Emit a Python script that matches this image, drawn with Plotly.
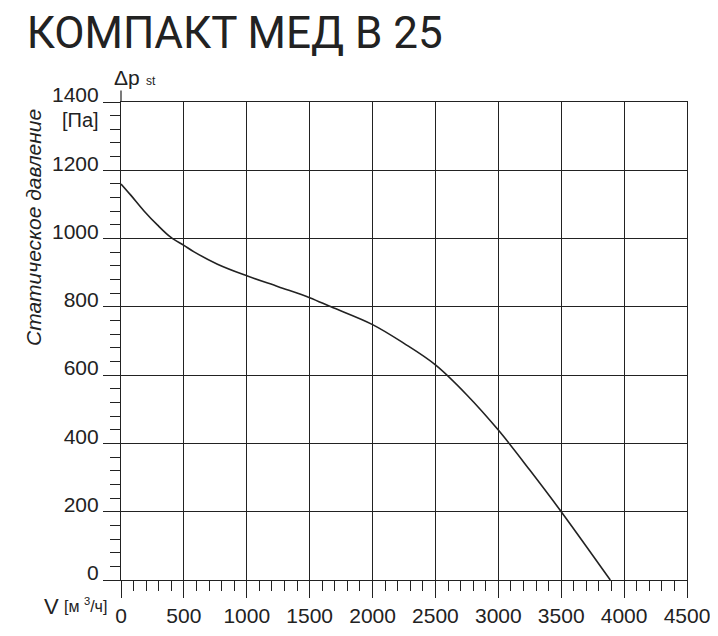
import plotly.graph_objects as go

# кривая вентилятора
flow = [0, 76, 183, 289, 395, 500, 581, 767, 1000, 1250, 1500, 1670, 2000, 2250, 2500, 2750, 3000, 3250, 3500, 3890]
pressure = [1160, 1128, 1081, 1040, 1004, 980, 961, 925, 891, 859, 827, 800, 748, 693, 630, 542, 439, 322, 200, 0]

x_ticks = [0, 500, 1000, 1500, 2000, 2500, 3000, 3500, 4000, 4500]
y_ticks = [0, 200, 400, 600, 800, 1000, 1200, 1400]

ink = "#222222"
font = "Liberation Sans"

fig = go.Figure()
fig.add_trace(go.Scatter(x=flow, y=pressure, mode="lines", line=dict(color=ink, width=1.6, shape="spline", smoothing=1.0),
                         showlegend=False, hoverinfo="skip"))

# страница html добавляет отступ 8px, поэтому поля уменьшены на 8
fig.update_layout(
    width=718, height=636,
    margin=dict(l=113, r=39, t=94, b=64),
    paper_bgcolor="white", plot_bgcolor="white",
    font=dict(family=font, color=ink, size=20),
    title=dict(text="КОМПАКТ МЕД В 25", x=0.026, xanchor="left", y=0.962, yanchor="middle",
               font=dict(family="Roboto", size=44, color=ink)),
)

fig.update_xaxes(range=[0, 4500], tickvals=x_ticks, ticktext=[str(v) for v in x_ticks],
                 showgrid=True, gridcolor=ink, gridwidth=1.2, zeroline=False,
                 showline=True, mirror=True, linecolor=ink, linewidth=1.2,
                 ticks="outside", ticklen=17, tickcolor=ink, tickwidth=1.2,
                 minor=dict(dtick=100, tick0=0, ticks="outside", ticklen=10, tickcolor=ink, tickwidth=1.2, showgrid=False),
                 tickfont=dict(family=font, size=21, color=ink), ticklabelstandoff=0)
fig.update_yaxes(range=[0, 1400], tickvals=y_ticks, ticktext=[str(v) for v in y_ticks],
                 showgrid=True, gridcolor=ink, gridwidth=1.2, zeroline=False,
                 showline=True, mirror=True, linecolor=ink, linewidth=1.2,
                 ticks="outside", ticklen=17, tickcolor=ink, tickwidth=1.2,
                 minor=dict(dtick=40, tick0=0, ticks="outside", ticklen=10, tickcolor=ink, tickwidth=1.2, showgrid=False),
                 tickfont=dict(family=font, size=21, color=ink), ticklabelshift=-7, ticklabelstandoff=0)

# продолжение оси Y над рамкой
fig.add_shape(type="line", xref="paper", yref="paper", x0=0, x1=0, y0=1, y1=1.024,
              line=dict(color=ink, width=1.2))

fig.add_annotation(text="Δp", xref="paper", yref="paper", x=-0.016, y=1.022, xanchor="left", yanchor="bottom",
                   showarrow=False, font=dict(family=font, size=21, color=ink))
fig.add_annotation(text="st", xref="paper", yref="paper", x=0.04, y=1.026, xanchor="left", yanchor="bottom",
                   showarrow=False, font=dict(family=font, size=12, color=ink))
fig.add_annotation(text="[Па]", xref="paper", yref="paper", x=-0.036, y=0.99, xanchor="right", yanchor="top",
                   showarrow=False, font=dict(family=font, size=20, color=ink))
fig.add_annotation(text="<i>Статическое давление</i>", xref="paper", yref="paper", x=-0.155, y=0.737,
                   xanchor="center", yanchor="middle", textangle=-90,
                   showarrow=False, font=dict(family=font, size=21, color=ink))
fig.add_annotation(text="V", xref="paper", yref="paper", x=-0.14, y=-0.026, xanchor="left", yanchor="top",
                   showarrow=False, font=dict(family=font, size=22, color=ink))
fig.add_annotation(text="[м <sup>3</sup>/ч]", xref="paper", yref="paper", x=-0.104, y=-0.028, xanchor="left", yanchor="top",
                   showarrow=False, font=dict(family=font, size=16, color=ink))

fig.write_html("out.html")
